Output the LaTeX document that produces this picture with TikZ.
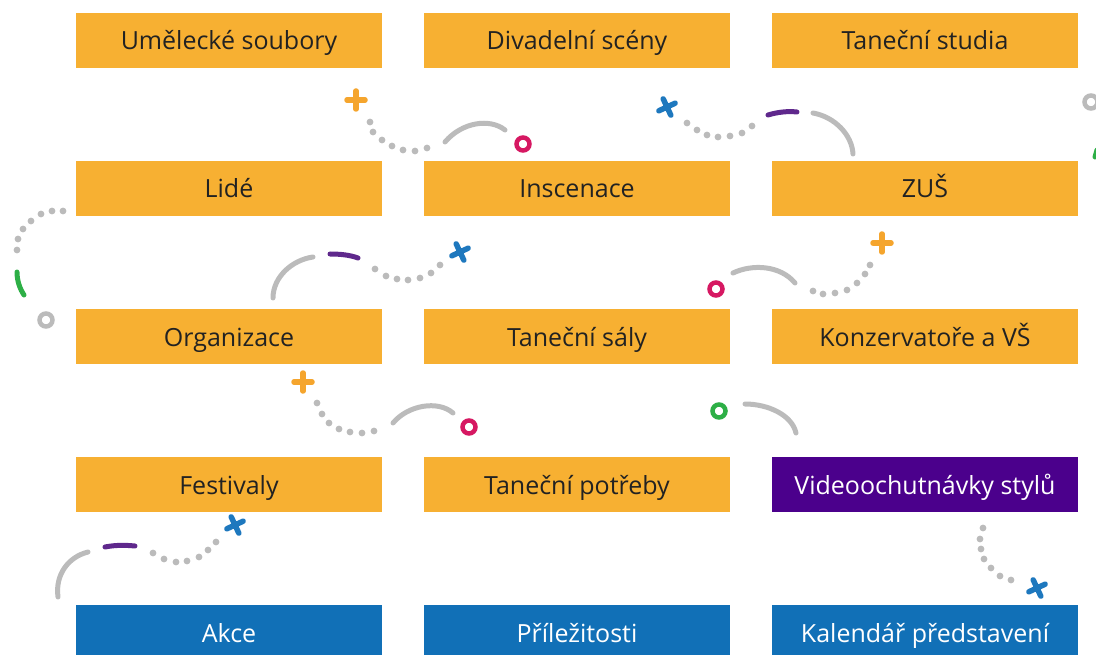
\documentclass[tikz,border=0pt]{standalone}
\usepackage{fontspec}
\setmainfont{Open Sans}
\usepackage{tikz}
\usetikzlibrary{positioning}
\definecolor{tile}{RGB}{247,176,50}
\definecolor{video}{RGB}{75,0,140}
\definecolor{calblue}{RGB}{17,112,183}
\definecolor{ink}{RGB}{34,34,34}
\definecolor{track}{RGB}{187,187,187}
\definecolor{ringpink}{RGB}{214,24,98}
\definecolor{ringgreen}{RGB}{45,175,70}
\definecolor{crossblue}{RGB}{30,120,190}
\definecolor{plusorange}{RGB}{245,165,45}
\definecolor{dashpurple}{RGB}{95,40,140}
\newcommand{\plusmark}[2]{\draw[plusorange,line width=5.5pt,line cap=round] (#1-9,#2)--(#1+9,#2) (#1,#2-9)--(#1,#2+9);}
\newcommand{\crossmark}[2]{\draw[crossblue,line width=5.5pt,line cap=round,rotate around={25:(#1,#2)}] (#1-9,#2)--(#1+9,#2) (#1,#2-9)--(#1,#2+9);}
\newcommand{\ringmark}[3]{\draw[#1,line width=4.5pt] (#2,#3) circle (6.5);}
\newcommand{\dotrow}[1]{\foreach \p in {#1}{\fill[track] \p circle (3.4);}}
\tikzset{
  tilebox/.style={rectangle,fill=tile,text=ink,minimum width=306pt,minimum height=55pt,inner sep=0pt,outer sep=0pt,
    text height=22pt,text depth=3pt,font=\fontsize{25}{29}\selectfont},
  videobox/.style={tilebox,fill=video,text=white},
  calbox/.style={tilebox,fill=calblue,text=white},
  arcline/.style={track,line width=5pt,line cap=round},
  dashline/.style={dashpurple,line width=5pt,line cap=round}
}
\begin{document}
\begin{tikzpicture}[x=1pt,y=-1pt]
\useasboundingbox (0,0) rectangle (1096,655);
\node[tilebox] (soubory) at (229,40.5) {Umělecké soubory};
\node[tilebox,right=42pt of soubory] (sceny) {Divadelní scény};
\node[tilebox,right=42pt of sceny] (studia) {Taneční studia};
\node[tilebox,below=93pt of soubory] (lide) {Lidé};
\node[tilebox,below=93pt of sceny] (inscenace) {Inscenace};
\node[tilebox,below=93pt of studia] (zus) {ZUŠ};
\node[tilebox,below=93pt of lide] (organizace) {Organizace};
\node[tilebox,below=93pt of inscenace] (saly) {Taneční sály};
\node[tilebox,below=93pt of zus] (konzervatore) {Konzervatoře a VŠ};
\node[tilebox,below=93pt of organizace] (festivaly) {Festivaly};
\node[tilebox,below=93pt of saly] (potreby) {Taneční potřeby};
\node[videobox,below=93pt of konzervatore] (videa) {Videoochutnávky stylů};
\node[calbox,below=93pt of festivaly] (akce) {Akce};
\node[calbox,below=93pt of potreby] (prilezitosti) {Příležitosti};
\node[calbox,below=93pt of videa] (kalendar) {Kalendář představení};
% trail under the first row
\plusmark{356}{100}
\dotrow{(370,122),(373,132),(382,140),(392,146),(403,150),(415,151),(427,148)}
\draw[arcline] (445,142) .. controls (462,122) and (490,118) .. (505,130);
\ringmark{ringpink}{523}{144}
\crossmark{667}{107}
\dotrow{(687,123),(697,130),(707,135),(718,137),(730,136),(742,133),(752,126)}
\draw[dashline] (768,115) .. controls (778,112) and (788,111) .. (797,112);
\draw[arcline] (813,113) .. controls (835,117) and (852,135) .. (853,154);
\ringmark{track}{1091}{102}
\draw[ringgreen,line width=5pt,line cap=round] (1097,150)--(1095,157);
% left edge
\dotrow{(63,211),(52,211),(41,214),(31,221),(23,229),(18,239),(17,250)}
\draw[ringgreen,line width=5pt,line cap=round] (17,272) .. controls (17,281) and (20,289) .. (24,295);
\ringmark{track}{46}{320}
% trail under the second row
\draw[arcline] (273,298) .. controls (273,277) and (292,260) .. (313,257);
\draw[dashline] (330,254) .. controls (340,254) and (350,255) .. (358,258);
\dotrow{(375,269),(386,276),(397,279),(408,280),(420,278),(431,273),(440,265)}
\crossmark{460}{252}
\ringmark{ringpink}{716}{289}
\draw[arcline] (733,273) .. controls (752,264) and (780,265) .. (795,283);
\dotrow{(813,291),(823,294),(835,293),(847,290),(857,283),(865,274),(870,265)}
\plusmark{882}{243}
% trail under the third row
\plusmark{303}{382}
\dotrow{(317,403),(322,414),(329,423),(339,429),(350,432),(362,433),(374,431)}
\draw[arcline] (393,423) .. controls (408,405) and (438,400) .. (453,413);
\ringmark{ringpink}{469}{427}
\ringmark{ringgreen}{719}{411}
\draw[arcline] (745,404) .. controls (768,404) and (792,415) .. (796,433);
% trail under the fourth row
\draw[arcline] (58,597) .. controls (55,575) and (68,557) .. (88,552);
\draw[dashline] (105,547) .. controls (115,545) and (125,545) .. (135,546);
\dotrow{(153,553),(164,559),(176,562),(187,561),(199,557),(208,550),(216,542)}
\crossmark{235}{525}
\dotrow{(983,528),(980,539),(981,549),(984,559),(991,568),(1000,576),(1011,580)}
\crossmark{1037}{588}
\end{tikzpicture}
\end{document}
